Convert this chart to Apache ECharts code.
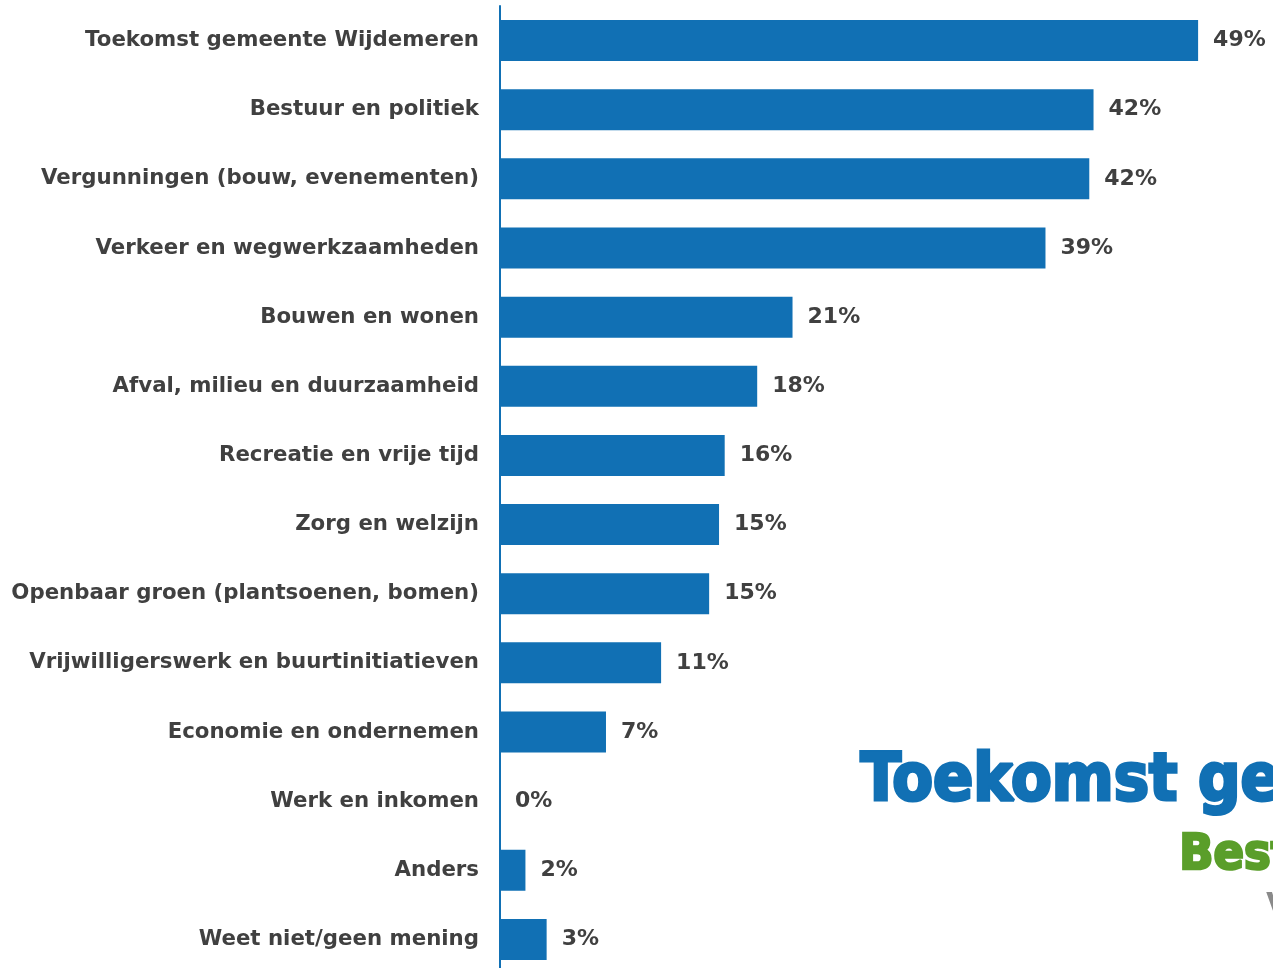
<!DOCTYPE html>
<html>
<head>
<meta charset="utf-8">
<script src="https://cdn.jsdelivr.net/npm/echarts@6/dist/echarts.min.js"></script>
<style>
  html, body { margin: 0; padding: 0; background: #fff; overflow: hidden; }
  #chart { width: 1273px; height: 985px; }
</style>
</head>
<body>
<div id="chart"></div>
<script>
// categories top to bottom
const categories = [
  'Toekomst gemeente Wijdemeren',
  'Bestuur en politiek',
  'Vergunningen (bouw, evenementen)',
  'Verkeer en wegwerkzaamheden',
  'Bouwen en wonen',
  'Afval, milieu en duurzaamheid',
  'Recreatie en vrije tijd',
  'Zorg en welzijn',
  'Openbaar groen (plantsoenen, bomen)',
  'Vrijwilligerswerk en buurtinitiatieven',
  'Economie en ondernemen',
  'Werk en inkomen',
  'Anders',
  'Weet niet/geen mening'
];
// bar lengths (percent)
const values = [49.4, 42.0, 41.7, 38.6, 20.7, 18.2, 15.9, 15.5, 14.8, 11.4, 7.5, 0, 1.8, 3.3];
// printed labels
const valueLabels = ['49%', '42%', '42%', '39%', '21%', '18%', '16%', '15%', '15%', '11%', '7%', '0%', '2%', '3%'];

const blue = '#1170b4';
const textColor = '#404040';
const font = '"DejaVu Sans", Verdana, sans-serif';

const chart = echarts.init(document.getElementById('chart'));

// the chart runs off the bottom of the slide, so the div is a bit taller than the window
let option = {
  backgroundColor: '#fff',
  animation: false,
  grid: {
    left: 500,
    right: -4,
    top: 6,
    height: 968
  },
  xAxis: {
    type: 'value',
    min: 0,
    max: 54.7,
    show: false
  },
  yAxis: {
    type: 'category',
    inverse: true,
    data: categories,
    axisLine: { show: true, lineStyle: { color: blue, width: 2 } },
    axisTick: { show: false },
    axisLabel: {
      margin: 21,
      color: textColor,
      fontFamily: font,
      fontWeight: 'bold',
      fontSize: 21.3
    }
  },
  series: [{
    type: 'bar',
    data: values,
    barWidth: 41,
    itemStyle: { color: blue },
    label: {
      show: true,
      position: 'right',
      distance: 15,
      color: textColor,
      fontFamily: font,
      fontWeight: 'bold',
      fontSize: 22,
      formatter: (p) => valueLabels[p.dataIndex]
    }
  }],
  // bits of the slide behind the chart
  graphic: [
    {
      type: 'text',
      left: 859,
      top: 748,
      style: {
        text: 'Toekomst gemeente Wijdemeren',
        fill: blue,
        stroke: blue,
        lineWidth: 3,
        font: 'bold 66px "Liberation Sans Narrow", "DejaVu Sans Condensed", sans-serif'
      }
    },
    {
      type: 'text',
      left: 1178,
      top: 830,
      style: {
        text: 'Bestuur en politiek',
        fill: '#5a9e2a',
        stroke: '#5a9e2a',
        lineWidth: 2.5,
        font: 'bold 50px "Liberation Sans Narrow", "DejaVu Sans Condensed", sans-serif'
      }
    },
    {
      type: 'text',
      left: 1266,
      top: 890,
      style: {
        text: 'V',
        fill: '#8a8a8a',
        font: 'bold 38px "Liberation Sans Narrow", sans-serif'
      }
    }
  ]
};

chart.setOption(option);
</script>
</body>
</html>
